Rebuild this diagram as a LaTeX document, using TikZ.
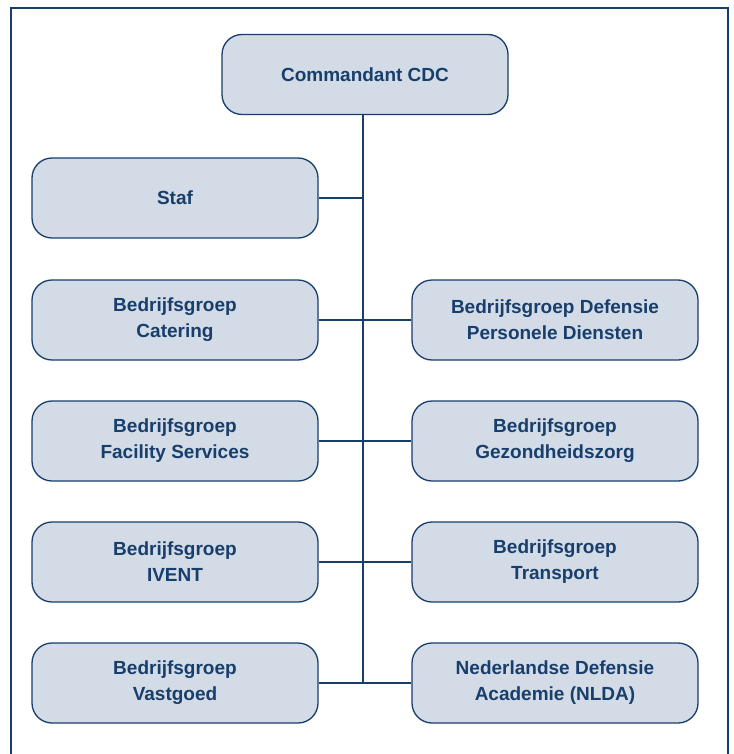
\documentclass[tikz,border=0pt]{standalone}
\usepackage{fontspec}
\setmainfont{Liberation Sans}
\definecolor{cdcblue}{RGB}{24,62,108}
\definecolor{cdcfill}{RGB}{211,219,230}

\begin{document}
\begin{tikzpicture}[x=1pt,y=-1pt]
  \tikzstyle{unit}=[draw=cdcblue,fill=cdcfill,line width=1.3pt,rounded corners=20pt,
    minimum width=286pt,minimum height=80pt,align=center,text=cdcblue,
    font=\fontsize{19}{26}\selectfont\bfseries]
  \tikzstyle{link}=[draw=cdcblue,line width=2.4pt]
  \useasboundingbox (0,0) rectangle (733,754);
  \draw[cdcblue,line width=1.3pt] (11,8) rectangle (728,780);
  \node[unit] (cmd) at (365,74.5) {Commandant CDC};
  \node[unit] (staf) at (175,198) {Staf};
  \node[unit] (cat) at (175,320) {Bedrijfsgroep\\Catering};
  \node[unit] (fac) at (175,441) {Bedrijfsgroep\\Facility Services};
  \node[unit] (ivent) at (175,562) {Bedrijfsgroep\\IVENT};
  \node[unit] (vast) at (175,683) {Bedrijfsgroep\\Vastgoed};
  \node[unit] (pers) at (555,320) {Bedrijfsgroep Defensie\\Personele Diensten};
  \node[unit] (gez) at (555,441) {Bedrijfsgroep\\Gezondheidszorg};
  \node[unit] (trans) at (555,562) {Bedrijfsgroep\\Transport};
  \node[unit] (nlda) at (555,683) {Nederlandse Defensie\\Academie (NLDA)};
  \coordinate (top) at (363,0 |- cmd.south);
  \coordinate (bot) at (363,0 |- vast.east);
  \draw[link] (top) -- (bot);
  \draw[link] (staf.east) -- (staf.east -| top);
  \draw[link] (cat.east) -- (pers.west);
  \draw[link] (fac.east) -- (gez.west);
  \draw[link] (ivent.east) -- (trans.west);
  \draw[link] (vast.east) -- (nlda.west);
\end{tikzpicture}
\end{document}
